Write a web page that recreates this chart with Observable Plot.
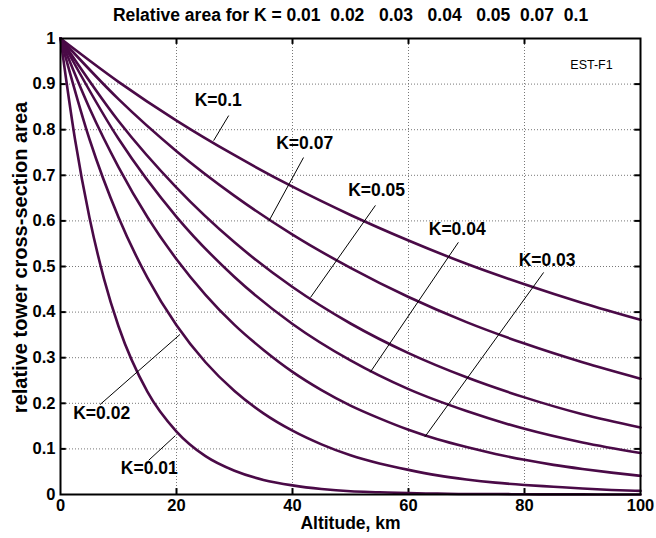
<!DOCTYPE html>
<html>
<head>
<meta charset="utf-8">
<script src="https://cdn.jsdelivr.net/npm/d3@7"></script>
<script src="https://cdn.jsdelivr.net/npm/@observablehq/plot@0.6"></script>
<style>
  html, body { margin: 0; padding: 0; background: #fff; }
</style>
</head>
<body>
<div id="chart"></div>
<script>
// ---- data ----
const titleText = "Relative area for K = 0.01\u00a0\u00a00.02\u00a0\u00a0\u00a00.03\u00a0\u00a0\u00a00.04\u00a0\u00a0\u00a00.05\u00a0\u00a00.07\u00a0\u00a00.1";
const xLabel = "Altitude, km";
const yLabel = "relative tower cross-section area";
const tagText = "EST-F1";

const xTicks = [0, 20, 40, 60, 80, 100];
const yTicks = [0, 0.1, 0.2, 0.3, 0.4, 0.5, 0.6, 0.7, 0.8, 0.9, 1];

const alt10 = [0, 10, 20, 30, 40, 50, 60, 70, 80, 90, 100];
const alt5 = [0, 5, 10, 15, 20, 25, 30, 35, 40, 45, 50, 55, 60, 65, 70, 75, 80, 85, 90, 95, 100];
const alt01 = [0, 2.5, 5, 7.5, 10, 15, 20, 25, 30, 35, 40, 45, 50, 55, 60, 65, 70, 75, 80, 85, 90, 95, 100];

const areaK010 = [1, 0.905, 0.820, 0.744, 0.675, 0.613, 0.557, 0.506, 0.461, 0.420, 0.383];
const areaK007 = [1, 0.867, 0.753, 0.655, 0.570, 0.497, 0.433, 0.378, 0.331, 0.290, 0.254];
const areaK005 = [1, 0.819, 0.673, 0.553, 0.455, 0.375, 0.310, 0.257, 0.213, 0.176, 0.147];
const areaK004 = [1, 0.780, 0.609, 0.477, 0.374, 0.294, 0.231, 0.183, 0.144, 0.114, 0.091];
const areaK003 = [1, 0.847, 0.718, 0.608, 0.516, 0.438, 0.372, 0.317, 0.269, 0.229, 0.195,
                  0.167, 0.142, 0.121, 0.104, 0.089, 0.076, 0.065, 0.056, 0.048, 0.041];
const areaK002 = [1, 0.779, 0.608, 0.475, 0.371, 0.290, 0.227, 0.178, 0.140, 0.110, 0.086,
                  0.068, 0.054, 0.042, 0.033, 0.026, 0.021, 0.017, 0.013, 0.010, 0.008];
const areaK001 = [1, 0.779, 0.607, 0.473, 0.369, 0.225, 0.138, 0.084, 0.052, 0.032, 0.020,
                  0.012, 0.007, 0.005, 0.003, 0.002, 0.001, 0.001, 0.0004, 0.0003, 0.0002, 0.0001, 0.0001];

const curveNames = ["K=0.1", "K=0.07", "K=0.05", "K=0.04", "K=0.03", "K=0.02", "K=0.01"];
const curveAlt = [alt10, alt10, alt10, alt10, alt5, alt5, alt01];
const curveArea = [areaK010, areaK007, areaK005, areaK004, areaK003, areaK002, areaK001];

// annotation labels: text position and leader line (in km / relative area)
const labelText = ["K=0.1", "K=0.07", "K=0.05", "K=0.04", "K=0.03", "K=0.02", "K=0.01"];
const labelX = [27.2, 42.1, 54.5, 68.4, 83.9, 7.1, 15.3];
const labelY = [0.864, 0.770, 0.667, 0.581, 0.513, 0.178, 0.057];
const leadX1 = [29.0, 41.9, 54.3, 68.6, 83.3, 6.8, 15.2];
const leadY1 = [0.831, 0.739, 0.634, 0.553, 0.487, 0.197, 0.075];
const leadX2 = [26.4, 35.9, 43.1, 53.4, 62.8, 20.6, 19.8];
const leadY2 = [0.776, 0.599, 0.432, 0.268, 0.126, 0.351, 0.129];

// ---- tables built from the arrays ----
const curves = curveNames.flatMap((k, i) =>
  curveAlt[i].map((h, j) => ({k, h, a: curveArea[i][j]})));
const labels = labelText.map((t, i) => ({
  t, x: labelX[i], y: labelY[i], x1: leadX1[i], y1: leadY1[i], x2: leadX2[i], y2: leadY2[i]
}));

const purple = "#4a0a47";
const font = "Arial, 'Liberation Sans', Helvetica, sans-serif";

const chart = Plot.plot({
  width: 656,
  height: 538,
  marginLeft: 60,
  marginRight: 16,
  marginTop: 38,
  marginBottom: 44,
  style: {fontFamily: font, fontSize: "16px", fontWeight: "bold", background: "#fff", color: "#000"},
  x: {domain: [0, 100]},
  y: {domain: [0, 1]},
  marks: [
    Plot.gridX(xTicks.slice(1, -1), {stroke: "#777", strokeOpacity: 1, strokeDasharray: "1,2", strokeWidth: 1}),
    Plot.gridY(yTicks.slice(1, -1), {stroke: "#777", strokeOpacity: 1, strokeDasharray: "1,2", strokeWidth: 1}),
    // inward ticks, bottom/top/left/right
    Plot.ruleX(xTicks.slice(1, -1), {x: d => d, y1: 0, y2: 0.013, stroke: "#000", strokeWidth: 2}),
    Plot.ruleX(xTicks.slice(1, -1), {x: d => d, y1: 0.987, y2: 1, stroke: "#000", strokeWidth: 2}),
    Plot.ruleY(yTicks.slice(1, -1), {y: d => d, x1: 0, x2: 1.0, stroke: "#000", strokeWidth: 2}),
    Plot.ruleY(yTicks.slice(1, -1), {y: d => d, x1: 99, x2: 100, stroke: "#000", strokeWidth: 2}),
    Plot.axisX(xTicks, {tickSize: 0, tickPadding: 5, fontSize: 16.5, fontWeight: "bold", label: null}),
    Plot.axisY(yTicks, {tickSize: 0, tickPadding: 5, fontSize: 16.5, fontWeight: "bold", label: null,
      tickFormat: d => String(+d.toFixed(1))}),
    Plot.line(curves, {x: "h", y: "a", z: "k", stroke: purple, strokeWidth: 2.6, curve: "monotone-x"}),
    Plot.link(labels, {x1: "x1", y1: "y1", x2: "x2", y2: "y2", stroke: "#000", strokeWidth: 1}),
    Plot.text(labels, {x: "x", y: "y", text: "t", fontSize: 17.5, fontWeight: "bold", fill: "#000"}),
    Plot.frame({stroke: "#000", strokeWidth: 2}),
    Plot.text([titleText], {frameAnchor: "top", dy: -23, text: d => d, fontSize: 17.5, fontWeight: "bold", lineAnchor: "middle", fill: "#000"}),
    Plot.text([xLabel], {frameAnchor: "bottom", dy: 29, text: d => d, fontSize: 17.5, fontWeight: "bold", lineAnchor: "middle", fill: "#000"}),
    Plot.text([yLabel], {frameAnchor: "left", dx: -40, dy: -9, rotate: -90, text: d => d, fontSize: 20, fontWeight: "bold", textAnchor: "middle", lineAnchor: "middle", fill: "#000"}),
    Plot.text([tagText], {frameAnchor: "top-right", dx: -49, dy: 26, text: d => d, fontSize: 12.5, fontWeight: "normal", textAnchor: "middle", lineAnchor: "middle", fill: "#000"})
  ]
});
document.getElementById("chart").appendChild(chart);
</script>
</body>
</html>
